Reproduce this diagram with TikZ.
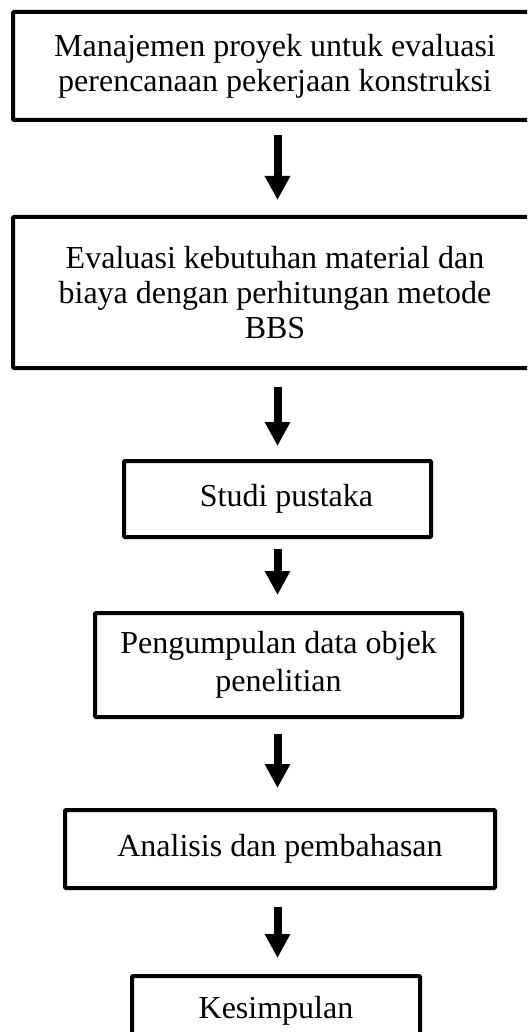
\documentclass[tikz,border=0pt]{standalone}
\usepackage{fontspec}
\setmainfont{Liberation Serif}
\usetikzlibrary{arrows.meta}
\tikzset{
  stepbox/.style={draw=black, line width=4pt, rounded corners=1pt, fill=white,
    align=center, inner sep=0pt, font=\fontsize{32}{35}\selectfont},
  flowarrow/.style={line width=8pt, -{Triangle[width=24pt,length=24pt]}}
}
\begin{document}
\begin{tikzpicture}[x=1pt,y=-1pt]
\clip (0,0) rectangle (527,1032);
\fill[white] (0,0) rectangle (527,1032);
\node[stepbox, minimum width=524pt, minimum height=108pt] (b1) at (275,66)
  {Manajemen proyek untuk evaluasi\\perencanaan pekerjaan konstruksi};
\node[stepbox, minimum width=524pt, minimum height=151pt] (b2) at (275,292.5)
  {Evaluasi kebutuhan material dan\\biaya dengan perhitungan metode\\BBS};
\node[stepbox, minimum width=307pt, minimum height=76pt] (b3) at (277.5,499)
  {\hspace*{18pt}Studi pustaka};
\node[stepbox, minimum width=367pt, minimum height=104pt,
  font=\fontsize{32}{38}\selectfont] (b4) at (278.5,665)
  {Pengumpulan data objek\\penelitian};
\node[stepbox, minimum width=430pt, minimum height=78pt] (b5) at (280,849)
  {Analisis dan pembahasan};
\node[stepbox, minimum width=288pt, minimum height=70pt] (b6) at (276,1011)
  {Kesimpulan};
\draw[flowarrow, shorten <=13pt, shorten >=15pt] (b1.south -| b3.center) -- (b2.north -| b3.center);
\draw[flowarrow, shorten <=17pt, shorten >=13pt] (b2.south -| b3.center) -- (b3.north);
\draw[flowarrow, shorten <=10pt, shorten >=16pt] (b3.south) -- (b4.north -| b3.center);
\draw[flowarrow, shorten <=15pt, shorten >=20pt] (b4.south -| b3.center) -- (b5.north -| b3.center);
\draw[flowarrow, shorten <=17pt, shorten >=16pt] (b5.south -| b3.center) -- (b6.north -| b3.center);
\end{tikzpicture}
\end{document}
